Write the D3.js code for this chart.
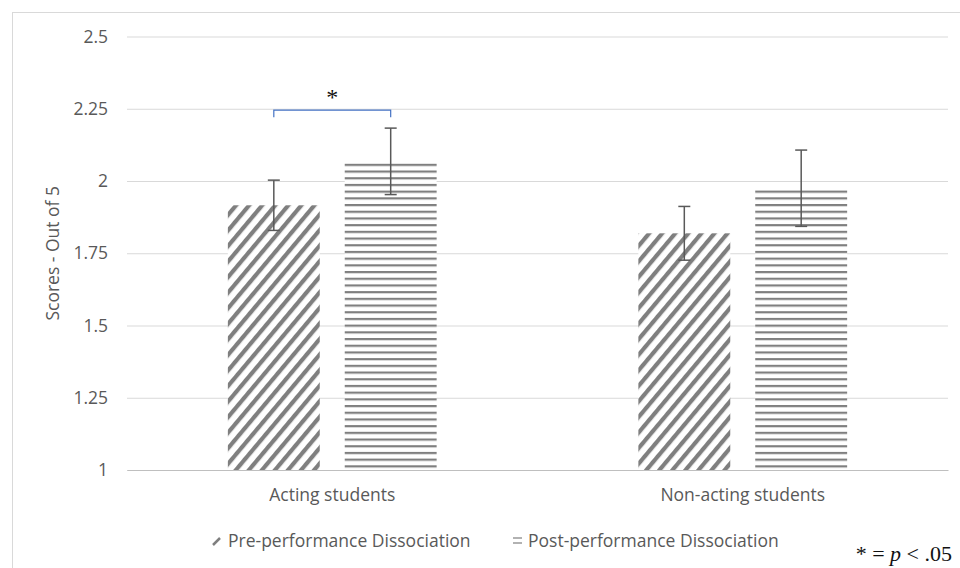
<!DOCTYPE html>
<html lang="en">
<head>
  <meta charset="utf-8">
  <title>Dissociation scores</title>
  <script src="https://cdnjs.cloudflare.com/ajax/libs/d3/7.6.1/d3.min.js"></script>
  <style>
    body { margin: 0; background: white; }
    text { font-family: "Open Sans", sans-serif; }
  </style>
</head>
<body>
  <div id="chart"></div>
  <script>
    // data
    const groups = ['Acting students', 'Non-acting students'];
    const seriesNames = ['Pre-performance Dissociation', 'Post-performance Dissociation'];
    const preScores = [1.916, 1.819];
    const postScores = [2.068, 1.975];
    const preErrors = [0.087, 0.093];
    const postErrors = [0.115, 0.132];
    const yTicks = [1, 1.25, 1.5, 1.75, 2, 2.25, 2.5];

    const width = 960, height = 568;
    const margin = { top: 36.5, right: 12, bottom: 98, left: 127 };
    const plotW = width - margin.left - margin.right;
    const plotH = height - margin.top - margin.bottom;
    const textColor = '#595959';
    const labelSize = '17.5px';

    const rows = groups.map((g, i) => ({
      group: g,
      values: [
        { series: 0, value: preScores[i], err: preErrors[i] },
        { series: 1, value: postScores[i], err: postErrors[i] }
      ]
    }));

    const svg = d3.select('#chart')
      .append('svg')
      .attr('width', width)
      .attr('height', height);

    // patterns
    const defs = svg.append('defs');
    const diag = defs.append('pattern')
      .attr('id', 'diag')
      .attr('patternUnits', 'userSpaceOnUse')
      .attr('width', 10)
      .attr('height', 10)
      .attr('patternTransform', 'rotate(40)');
    diag.append('rect').attr('width', 10).attr('height', 10).attr('fill', 'white');
    diag.append('rect').attr('width', 4.2).attr('height', 10).attr('fill', '#7f7f7f');

    const horiz = defs.append('pattern')
      .attr('id', 'horiz')
      .attr('patternUnits', 'userSpaceOnUse')
      .attr('width', 10)
      .attr('height', 6.7);
    horiz.append('rect').attr('width', 10).attr('height', 6.7).attr('fill', 'white');
    horiz.append('rect').attr('y', 0).attr('width', 10).attr('height', 2.2).attr('fill', '#7f7f7f');

    const fills = ['url(#diag)', 'url(#horiz)'];

    // chart border
    svg.append('rect')
      .attr('x', 12.5).attr('y', 12.5)
      .attr('width', 980).attr('height', 600)
      .attr('fill', 'none')
      .attr('stroke', '#d9d9d9');

    const g = svg.append('g')
      .attr('transform', `translate(${margin.left}, ${margin.top})`);

    const x0 = d3.scaleBand()
      .domain(groups)
      .range([0, plotW])
      .paddingInner(0)
      .paddingOuter(0);

    const x1 = d3.scaleBand()
      .domain([0, 1])
      .range([0, x0.bandwidth()])
      .paddingInner(0.2137)
      .paddingOuter(0.863);

    const y = d3.scaleLinear()
      .domain([1, 2.5])
      .range([plotH, 0]);

    // gridlines
    g.append('g')
      .call(d3.axisLeft(y).tickValues(yTicks).tickSize(-plotW).tickFormat(''))
      .call(a => a.select('.domain').remove())
      .call(a => a.selectAll('line').attr('stroke', '#d9d9d9').attr('stroke-width', 1));

    // y tick labels
    g.append('g')
      .call(d3.axisLeft(y).tickValues(yTicks).tickSize(0).tickPadding(19).tickFormat(d3.format('')))
      .call(a => a.select('.domain').remove())
      .call(a => a.selectAll('text')
        .attr('fill', textColor)
        .style('font-size', labelSize)
        .style('font-family', '"Open Sans", sans-serif'));

    // bars
    const grp = g.selectAll('.grp')
      .data(rows)
      .enter()
      .append('g')
      .attr('transform', d => `translate(${x0(d.group)}, 0)`);

    grp.selectAll('rect')
      .data(d => d.values)
      .enter()
      .append('rect')
      .attr('x', d => x1(d.series))
      .attr('y', d => y(d.value))
      .attr('width', x1.bandwidth())
      .attr('height', d => plotH - y(d.value))
      .attr('fill', d => fills[d.series]);

    // error bars
    const eb = grp.selectAll('.eb')
      .data(d => d.values)
      .enter()
      .append('g')
      .attr('stroke', '#595959')
      .attr('stroke-width', 1.5);
    const cx = d => x1(d.series) + x1.bandwidth() / 2;
    eb.append('line')
      .attr('x1', cx).attr('x2', cx)
      .attr('y1', d => y(d.value + d.err))
      .attr('y2', d => y(d.value - d.err));
    eb.append('line')
      .attr('x1', d => cx(d) - 6).attr('x2', d => cx(d) + 6)
      .attr('y1', d => y(d.value + d.err))
      .attr('y2', d => y(d.value + d.err));
    eb.append('line')
      .attr('x1', d => cx(d) - 6).attr('x2', d => cx(d) + 6)
      .attr('y1', d => y(d.value - d.err))
      .attr('y2', d => y(d.value - d.err));

    // x axis
    g.append('g')
      .attr('transform', `translate(0, ${plotH})`)
      .call(d3.axisBottom(x0).tickSize(0).tickPadding(19))
      .call(a => a.select('.domain').attr('stroke', '#bfbfbf'))
      .call(a => a.selectAll('text')
        .attr('fill', textColor)
        .style('font-size', labelSize)
        .style('font-family', '"Open Sans", sans-serif'));

    // y axis title
    svg.append('text')
      .attr('transform', `translate(59, ${margin.top + plotH / 2}) rotate(-90)`)
      .attr('text-anchor', 'middle')
      .attr('fill', textColor)
      .style('font-size', labelSize)
      .text('Scores - Out of 5');

    // significance bracket
    const a0 = x0(groups[0]);
    const bx1 = a0 + x1(0) + x1.bandwidth() / 2;
    const bx2 = a0 + x1(1) + x1.bandwidth() / 2;
    const by = y(2.245);
    g.append('path')
      .attr('d', `M${bx1},${by + 7}V${by}H${bx2}V${by + 7}`)
      .attr('fill', 'none')
      .attr('stroke', '#4472c4')
      .attr('stroke-width', 1.2);
    g.append('text')
      .attr('x', (bx1 + bx2) / 2)
      .attr('y', by - 5)
      .attr('text-anchor', 'middle')
      .style('font-family', '"Liberation Serif", serif')
      .style('font-size', '24px')
      .attr('fill', '#111')
      .text('*');

    // legend
    const legend = svg.append('g').attr('transform', 'translate(0, 541)');
    const legX = [213, 513];
    legend.append('line')
      .attr('x1', legX[0]).attr('y1', 4).attr('x2', legX[0] + 7).attr('y2', -3)
      .attr('stroke', '#7f7f7f').attr('stroke-width', 2.5);
    legend.append('line')
      .attr('x1', legX[1]).attr('x2', legX[1] + 9).attr('y1', -3).attr('y2', -3)
      .attr('stroke', '#7f7f7f').attr('stroke-width', 1.2);
    legend.append('line')
      .attr('x1', legX[1]).attr('x2', legX[1] + 9).attr('y1', 2).attr('y2', 2)
      .attr('stroke', '#7f7f7f').attr('stroke-width', 1.2);
    legend.selectAll('.lt')
      .data(seriesNames)
      .enter()
      .append('text')
      .attr('x', (d, i) => legX[i] + 15)
      .attr('y', 6)
      .attr('fill', textColor)
      .style('font-size', labelSize)
      .text(d => d);

    // footnote
    const note = svg.append('text')
      .attr('x', 952)
      .attr('y', 561)
      .attr('text-anchor', 'end')
      .style('font-family', '"Liberation Serif", serif')
      .style('font-size', '22px')
      .attr('fill', '#111');
    note.append('tspan').text('* = ');
    note.append('tspan').style('font-style', 'italic').text('p');
    note.append('tspan').text(' < .05');
  </script>
</body>
</html>
